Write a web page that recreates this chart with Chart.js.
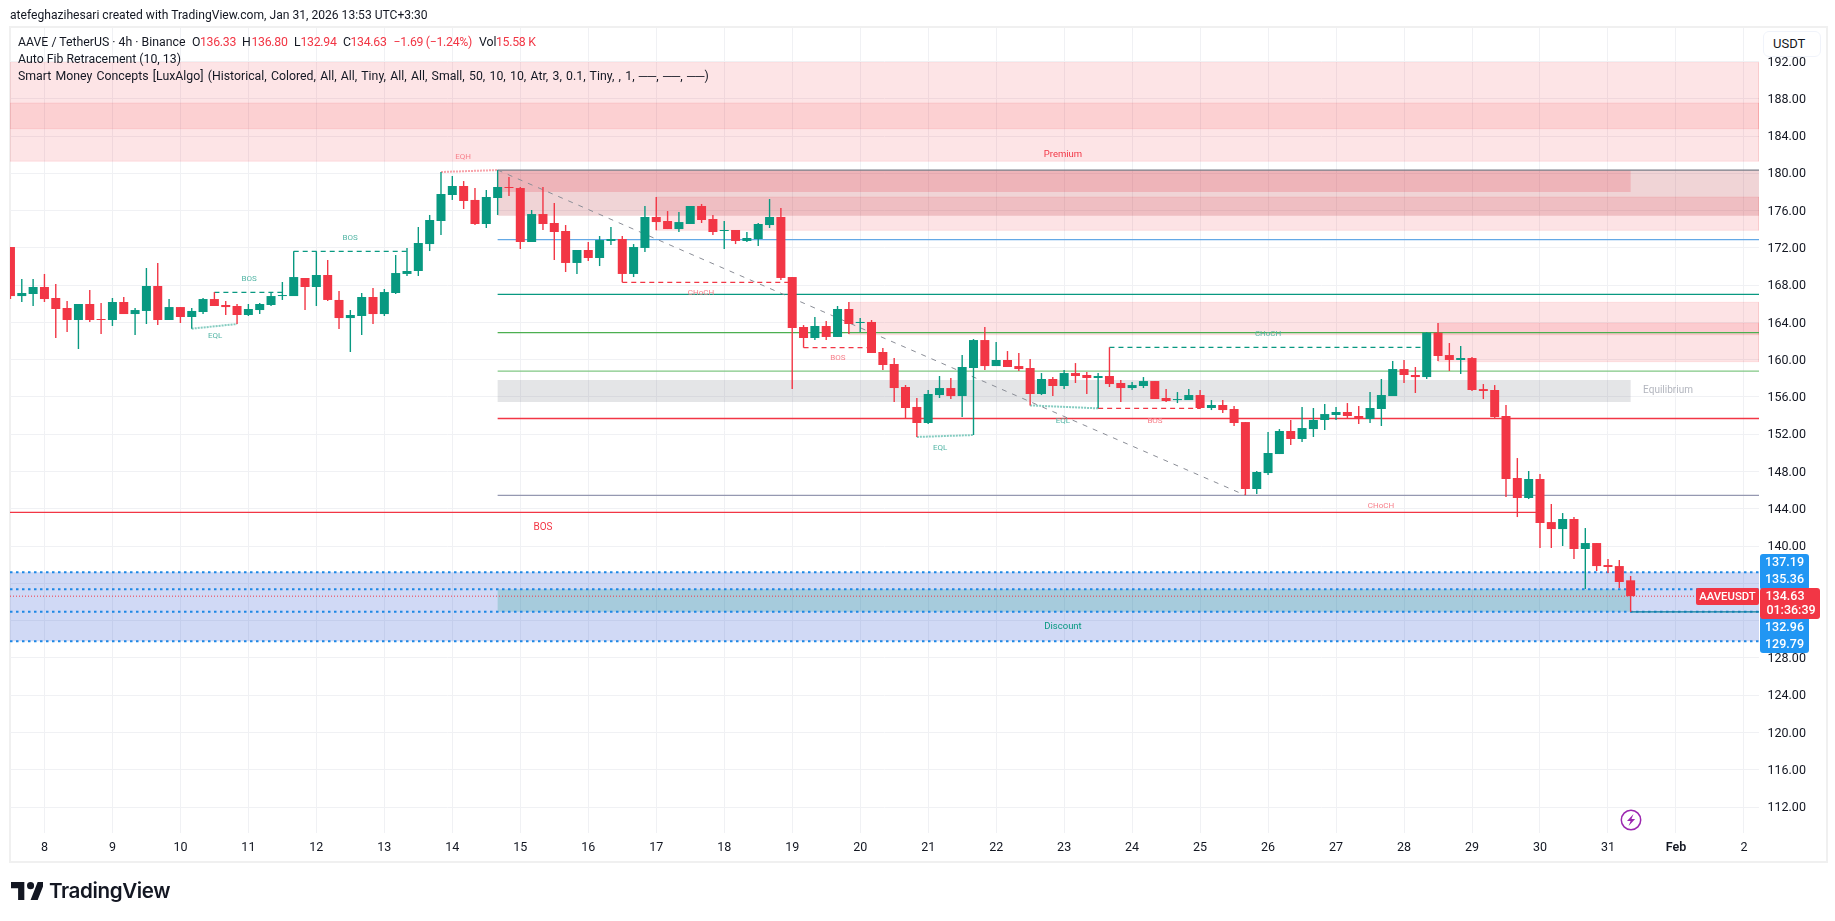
<!DOCTYPE html>
<html><head><meta charset="utf-8">
<script src="https://cdn.jsdelivr.net/npm/chart.js@4/dist/chart.umd.min.js"></script>
<style>
html,body{margin:0;padding:0;background:#fff;width:1835px;height:921px;overflow:hidden;font-family:Roboto,sans-serif;color:#131722}
canvas{position:absolute;left:0;top:0}
.t{position:absolute;white-space:nowrap;font-size:12.3px;line-height:16px}
.t span{position:absolute;top:0}
.t span.r{letter-spacing:-.3px}
.r{color:#f23645}
#frame{position:absolute;left:9px;top:26px;width:1815px;height:833px;border:2px solid #f0f0f0}
#btn{position:absolute;left:1763px;top:31px;width:56px;height:24px;border:1.5px solid #f0f3fa;border-radius:6px;background:#fff;font-size:13px;line-height:24px;padding-left:0;text-indent:9px}
#logo{position:absolute;left:11px;top:882px}
#logot{position:absolute;left:49px;top:878px;font:600 20.6px/26px Inter,sans-serif;color:#131722;letter-spacing:-.4px}
#bolt{position:absolute;left:1620px;top:809px}
</style></head><body>
<div id="frame"></div>
<canvas id="c" width="1835" height="921"></canvas>
<div class="t" style="left:10px;top:7px;font-size:12.1px">atefeghazihesari created with TradingView.com, Jan 31, 2026 13:53 UTC+3:30</div>
<div class="t" style="left:18px;top:34px">AAVE / TetherUS · 4h · Binance
<span style="left:174px">O</span><span class="r" style="left:182px">136.33</span>
<span style="left:224px">H</span><span class="r" style="left:233.5px">136.80</span>
<span style="left:276px">L</span><span class="r" style="left:282.5px">132.94</span>
<span style="left:325px">C</span><span class="r" style="left:332.5px">134.63</span>
<span class="r" style="left:375.6px">−1.69 (−1.24%)</span>
<span style="left:461px">Vol</span><span class="r" style="left:478px">15.58 K</span></div>
<div class="t" style="left:18px;top:51px">Auto Fib Retracement (10, 13)</div>
<div class="t" style="left:18px;top:68px;word-spacing:1.2px">Smart Money Concepts [LuxAlgo] (Historical, Colored, All, All, Tiny, All, All, Small, 50, 10, 10, Atr, 3, 0.1, Tiny, , 1, ──, ──, ──)</div>
<svg id="logo" width="32" height="18" viewBox="0 0 36 20"><path d="M15 0H0v7h8v13h7V0Zm15 20h-8l8-20h8l-8 20Z" fill="#131722"/><circle cx="22" cy="4" r="4" fill="#131722"/></svg>
<div id="logot">TradingView</div>
<svg id="bolt" width="22" height="22" viewBox="0 0 22 22"><circle cx="11" cy="11" r="9.7" fill="#fff" stroke="#9c27b0" stroke-width="1.5"/><path d="M13.5 5 7 12h3.6l-2 5 6.5-7h-3.6z" fill="#9c27b0"/></svg>
<script>
// candles, index -3 is the clipped one at the left edge; index 0 is the 8th
const firstCandle = -3;
const opens = [172.09,166.83,167.05,167.80,166.62,165.55,164.26,165.98,164.37,164.26,166.19,164.90,165.23,167.91,164.26,165.65,164.58,165.12,166.51,165.87,165.76,164.80,165.33,165.87,166.83,166.83,168.77,167.80,169.09,166.41,164.47,164.69,166.73,164.90,167.16,169.20,169.52,172.41,174.88,177.67,178.64,177.14,174.56,177.35,178.53,178.42,172.63,175.63,174.67,173.81,170.38,171.77,170.91,172.74,172.95,169.20,171.99,175.31,174.88,174.02,174.56,176.49,175.10,173.81,173.92,172.74,172.95,174.45,175.31,168.87,163.51,162.33,163.62,162.44,165.44,163.94,164.05,160.83,159.54,157.07,154.93,153.21,156.21,156.96,156.10,159.11,162.11,159.32,159.97,159.32,159.11,156.32,157.93,157.18,158.57,158.36,158.04,158.25,157.50,156.96,157.18,157.71,155.89,155.67,155.67,156.21,154.82,155.14,154.71,153.31,146.13,147.84,149.88,152.35,151.49,152.56,153.53,154.07,154.39,153.96,153.64,154.71,156.10,159.00,158.36,158.14,162.90,160.50,159.97,160.18,156.85,156.75,153.96,147.31,145.16,147.20,142.58,141.83,142.91,139.69,140.33,137.97,137.86,136.33];
const highs = [172.09,168.66,168.66,169.20,168.12,166.30,165.98,167.48,166.08,166.62,166.73,165.55,169.84,170.38,166.51,165.65,165.55,166.62,167.26,166.30,165.98,165.98,166.08,167.23,168.34,171.63,168.77,171.63,170.70,167.37,165.33,167.16,167.69,167.59,171.23,171.99,174.24,175.53,180.14,179.71,179.17,178.42,178.21,180.35,179.60,178.53,176.06,178.53,176.81,174.45,171.77,172.63,173.27,174.24,173.27,172.41,176.49,177.46,175.95,175.85,176.49,176.71,175.53,174.88,173.92,173.70,174.67,177.24,176.28,168.87,163.72,164.58,164.15,165.76,166.19,164.47,164.26,161.26,160.18,157.29,155.89,156.75,158.25,158.04,160.50,162.22,163.51,161.90,160.93,160.72,160.07,158.57,158.14,158.89,159.64,158.68,158.57,161.33,157.82,157.60,158.14,157.71,156.85,156.53,156.85,156.75,155.67,155.67,155.03,153.31,148.06,152.24,152.56,153.53,154.92,154.82,155.25,154.92,155.35,155.03,156.53,157.93,159.86,159.97,159.22,162.97,163.94,161.79,161.47,160.29,157.39,157.28,155.14,149.45,148.06,147.74,144.52,143.55,143.12,141.94,140.33,138.62,138.51,136.80];
const lows = [166.51,166.19,165.76,166.19,162.33,162.97,161.15,164.05,162.76,163.62,164.90,162.65,163.83,163.72,164.26,163.94,163.33,164.90,165.76,164.80,163.83,164.69,164.90,165.76,166.41,166.83,165.33,165.76,166.30,163.29,160.83,162.65,163.83,164.69,167.05,168.98,168.98,171.66,173.38,177.14,176.17,174.45,174.13,175.53,177.56,171.88,172.63,173.92,170.70,169.41,169.20,170.59,170.05,172.31,168.30,168.87,171.56,173.88,174.02,173.70,174.56,174.67,173.38,171.88,172.41,172.63,172.20,174.13,168.55,156.86,161.29,162.11,162.11,162.44,162.76,162.97,160.72,158.90,155.46,153.71,151.71,153.10,155.89,155.78,153.85,151.92,158.89,159.32,159.22,158.79,155.10,156.21,156.10,156.85,157.50,156.32,154.78,157.07,155.46,156.75,156.96,155.78,155.46,155.35,155.67,154.71,154.60,154.28,152.89,145.48,145.59,147.63,149.88,150.85,151.17,151.71,152.46,153.53,153.74,153.10,153.21,152.89,156.10,157.50,156.43,157.93,159.86,158.79,158.47,156.64,155.78,153.74,145.27,143.12,145.05,139.80,139.80,140.01,138.62,135.40,137.33,137.11,135.50,132.94];
const closes = [166.83,167.16,167.80,166.51,165.44,164.26,165.98,164.26,164.26,166.19,164.90,165.33,167.91,164.26,165.65,164.58,165.23,166.51,165.76,165.65,164.80,165.44,165.98,166.83,166.94,168.87,167.80,169.09,166.41,164.47,164.80,166.73,164.90,167.26,169.30,169.52,172.52,174.99,177.78,178.64,177.03,174.56,177.46,178.53,178.42,172.63,175.63,174.56,173.70,170.38,171.77,170.91,172.84,172.95,169.20,172.09,175.31,174.77,174.02,174.77,176.49,174.99,173.70,173.92,172.74,173.06,174.56,175.31,168.77,163.40,162.33,163.62,162.44,165.44,163.83,164.05,160.72,159.43,156.96,154.82,153.21,156.32,156.96,156.10,159.22,162.11,159.32,159.97,159.22,159.00,156.32,157.93,157.18,158.57,158.25,158.04,158.25,157.39,156.96,157.28,157.71,155.78,155.57,155.78,156.21,154.82,155.14,154.60,153.21,146.13,147.95,149.99,152.35,151.49,152.67,153.53,154.17,154.39,153.96,153.67,154.82,156.21,159.00,158.36,158.14,162.90,160.40,159.97,160.18,156.75,156.64,153.85,147.20,145.16,147.20,142.48,141.83,142.91,139.69,140.33,137.86,137.76,136.15,134.63];

const priceStep = 4;
const yLow = 109.22, yHigh = 195.59;
const xMin = -3.04, xMax = 151.33;
const dayLabels = ['8','9','10','11','12','13','14','15','16','17','18','19','20','21','22','23','24','25','26','27','28','29','30','31','Feb','2'];
const candlesPerDay = 6;

// fib levels
const fibLevels = [180.35,172.88,167.02,162.90,158.78,153.69,145.45];
const fibColors = ['#787b86','#64a9e6','#089981','#4caf50','#81c784','#f23645','#9598b1'];
const fibStart = 40, fibEnd = 106;
// zones
const zoneStart = [xMin,xMin,40,40,54,71,123,40];
const zoneEnd   = [xMax,xMax,xMax,140,xMax,xMax,xMax,140];
const zoneTop   = [191.89,187.54,180.32,180.32,177.46,166.16,163.91,157.82];
const zoneBot   = [181.29,184.79,175.45,178.00,173.88,162.68,159.79,155.46];
const zoneFill  = ['rgba(242,54,69,.135)','rgba(242,54,69,.12)','rgba(178,40,51,.2)','rgba(242,54,69,.2)','rgba(242,54,69,.14)','rgba(242,54,69,.14)','rgba(242,54,69,.14)','rgba(120,123,134,.2)'];
// demand / discount
const fibBoxLevels = [137.19,135.36,132.96,129.79];
const structStart=[15,22,94,51,67,93], structEnd=[21,32,122,66,73,102];
const structLevel=[167.23,171.63,161.33,168.30,161.29,154.78];
const structColor=['#089981','#089981','#089981','#f23645','#f23645','#f23645'];
const eqStart=[35,13,77,87], eqEnd=[40,17,82,93];
const eqFrom=[180.14,163.33,151.71,155.10], eqTo=[180.35,163.83,151.92,154.78];
const eqColor=['#f7a3aa','#84ccc0','#84ccc0','#84ccc0'];
// text labels
const labelText=['EQH','EQL','BOS','BOS','Premium','CHoCH','BOS','EQL','EQL','BOS','CHoCH','Equilibrium','CHoCH','BOS','Discount'];
const labelIdx=[36.95,15.06,18.06,26.97,89.9,57.95,70.04,79.05,89.9,98.02,108,143.3,117.97,44,89.9];
const labelPrice=[181.75,162.57,168.66,173.06,182.02,167.16,160.18,150.53,153.42,153.42,162.76,156.67,144.3,142.05,131.32];
const labelColor=['#f7808b','#53b5a5','#53b5a5','#53b5a5','#f23645','#f7808b','#f7808b','#53b5a5','#53b5a5','#f7808b','#53b5a5','#b2b5be','#f7808b','#f23645','#089981'];
const labelSize=[8,8,8,8,9.5,8,8,8,8,8,8,10,8,10,9.5];
const lastPrice=134.63, lastClock='01:36:39', tagName='AAVEUSDT', bosLevel=143.63, bosEndIdx=132, lastIdx=140, lastLow=132.94;
const tagValues=['137.19','135.36','132.96','129.79'];

const GREEN='#089981', RED='#f23645';
const xs = opens.map((_,i)=>firstCandle+i);
const up = opens.map((o,i)=>closes[i]>=o);
const col = up.map(u=>u?GREEN:RED);

function seg(x0,y0,x1,y1,color,width,dash,order){
  return {type:'line',data:[{x:x0,y:y0},{x:x1,y:y1}],borderColor:color,borderWidth:width,borderDash:dash||[],pointRadius:0,fill:false,tension:0,order:order||20};
}
function box(x0,x1,t,b,fill,order,edge){
  return {type:'line',data:[{x:x0,y:t},{x:x1,y:t},{x:x1,y:b},{x:x0,y:b},{x:x0,y:t}],backgroundColor:fill,borderColor:edge||'rgba(0,0,0,0)',borderWidth:edge?1:0,pointRadius:0,fill:'shape',tension:0,order:order||30};
}
const ds=[];
zoneStart.forEach((s,i)=>ds.push(box(s,zoneEnd[i],zoneTop[i],zoneBot[i],zoneFill[i],30,i<2||i>3&&i<7?'rgba(242,54,69,.10)':undefined)));
// discount area
ds.push(box(xMin,xMax,fibBoxLevels[0],fibBoxLevels[3],'rgba(41,82,210,.22)',31));
ds.push(box(40,lastIdx,fibBoxLevels[1],fibBoxLevels[2],'rgba(8,153,129,.21)',30));
fibBoxLevels.forEach(v=>ds.push(seg(xMin,v,xMax,v,'#1e88e5',2,[2.5,3.5],19)));
fibLevels.forEach((v,i)=>ds.push(seg(40,v,xMax,v,fibColors[i],1.3,[],20)));
ds.push(seg(fibStart,fibLevels[0],fibEnd,fibLevels[6],'#8a8d96',1,[5,6],18));
structStart.forEach((s,i)=>ds.push(seg(s,structLevel[i],structEnd[i],structLevel[i],structColor[i],1.2,[5,4],18)));
eqStart.forEach((s,i)=>ds.push(seg(s,eqFrom[i],eqEnd[i],eqTo[i],eqColor[i],2,[2,1],18)));
ds.push(seg(xMin,bosLevel,bosEndIdx,bosLevel,RED,1.3,[],18));
ds.push(seg(lastIdx,lastLow,xMax,lastLow,'#0e7f9a',1.3,[],18));
ds.push(seg(xMin,lastPrice,145.8,lastPrice,RED,1,[1,2],8));
ds.push({type:'bar',data:xs.map((x,i)=>({x,y:[lows[i],highs[i]]})),backgroundColor:col,barThickness:1.4,grouped:false,inflateAmount:0,borderWidth:0,order:10});
ds.push({type:'bar',data:xs.map((x,i)=>({x,y:[Math.min(opens[i],closes[i]),Math.max(opens[i],closes[i])]})),backgroundColor:col,barThickness:9,grouped:false,inflateAmount:0,borderWidth:0,order:9});

const overlay={id:'overlay',
 beforeDraw(ch){
  const y=ch.scales.y;
  if(y._computeLabelItems){const items=y._computeLabelItems(ch.chartArea);items.forEach(it=>{it.options.translation[1]+=1});y._labelItems=items;}
 },
 afterDraw(ch){
  const c=ch.ctx,X=ch.scales.x,Y=ch.scales.y;
  c.save();
  c.textAlign='center';c.textBaseline='middle';
  labelText.forEach((t,i)=>{c.fillStyle=labelColor[i];c.font=labelSize[i]+'px Roboto';c.fillText(t,X.getPixelForValue(labelIdx[i]),Y.getPixelForValue(labelPrice[i]));});
  // price tags on the axis
  const tagX=1760,tagW=49;
  c.fillStyle='#2196f3';
  c.beginPath();c.roundRect(tagX,554,tagW,36,3);c.fill();
  c.beginPath();c.roundRect(tagX,616,tagW,37,3);c.fill();
  c.fillStyle=RED;
  c.beginPath();c.roundRect(tagX,588,60,31,3);c.fill();
  c.beginPath();c.roundRect(1696,588,63,17,2);c.fill();
  c.fillStyle='#fff';c.font='500 12.5px Roboto';
  c.fillText(tagValues[0],1784.5,563);c.fillText(tagValues[1],1784.5,580);
  c.fillText(tagValues[2],1784.5,628);c.fillText(tagValues[3],1784.5,645);
  c.fillText(String(lastPrice),1785,597);c.fillText(lastClock,1791,611);
  c.font='500 11.3px Roboto';c.fillText(tagName,1727.5,597);
  c.restore();
}};
new Chart(document.getElementById('c'),{
  data:{datasets:ds},
  plugins:[overlay],
  options:{responsive:false,animation:false,devicePixelRatio:1,
    layout:{padding:{left:10,right:10,top:28,bottom:60}},
    plugins:{legend:{display:false},tooltip:{enabled:false}},
    scales:{
      x:{type:'linear',offset:false,min:xMin,max:xMax,
        afterFit:s=>{s.height=28},
        afterBuildTicks:s=>{s.ticks=dayLabels.map((_,i)=>({value:i*candlesPerDay}))},
        grid:{color:'#f0f1f4',lineWidth:1,drawTicks:false,offset:false},border:{display:false},
        ticks:{autoSkip:false,maxRotation:0,padding:7,color:'#131722',
          font:c=>({family:'Roboto',size:12.5,weight:c.tick&&c.tick.label==='Feb'?'600':'400'}),
          callback:v=>dayLabels[v/candlesPerDay]}},
      y:{type:'linear',position:'right',min:yLow,max:yHigh,
        afterFit:s=>{s.width=66},
        grid:{color:'#f0f1f4',lineWidth:1,drawTicks:false},border:{display:false},
        ticks:{stepSize:priceStep,includeBounds:false,padding:8.5,color:'#131722',font:{family:'Roboto',size:12.5},callback:v=>v.toFixed(2)}}
    }
  }
});
</script>
<div id="btn">USDT</div>
</body></html>
